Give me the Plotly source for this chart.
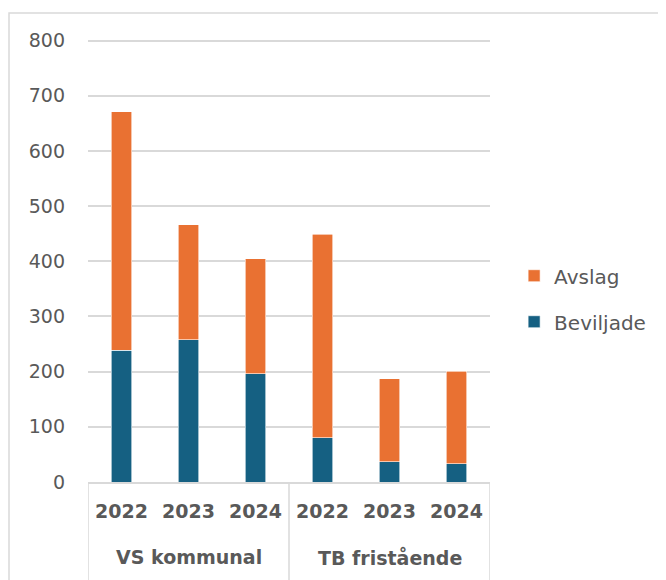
import plotly.graph_objects as go

groups = ["VS kommunal", "VS kommunal", "VS kommunal", "TB fristående", "TB fristående", "TB fristående"]
years = ["2022", "2023", "2024", "2022", "2023", "2024"]
beviljade = [239, 258, 196, 80, 37, 33]
avslag = [432, 208, 209, 369, 150, 168]
y_ticks = [0, 100, 200, 300, 400, 500, 600, 700, 800]

keys = [f"{g}|{y}" for g, y in zip(groups, years)]
group_names = list(dict.fromkeys(groups))

BLUE = "#156082"
ORANGE = "#E97132"
GRID = "#d9d9d9"
TXT = "#595959"
FONT = "DejaVu Sans"

fig = go.Figure()
fig.add_trace(go.Bar(x=keys, y=beviljade, name="Beviljade",
                     marker=dict(color=BLUE, line=dict(color="white", width=0.6)),
                     legendgroup="b", legendrank=2))
fig.add_trace(go.Bar(x=keys, y=avslag, name="Avslag",
                     marker=dict(color=ORANGE, line=dict(color="white", width=0.6)),
                     legendgroup="a", legendrank=1))

annotations = []
shapes = [dict(type="rect", xref="paper", yref="paper",
               x0=-0.1965, x1=1.7, y0=-0.6, y1=1.049,
               line=dict(color=GRID, width=1.5), layer="below")]
start = 0
for g in group_names:
    n = groups.count(g)
    annotations.append(dict(x=start + (n - 1) / 2, y=-0.168, xref="x", yref="paper",
                            text=g, showarrow=False, yanchor="middle",
                            font=dict(family=FONT, size=19, color=TXT, weight="bold")))
    shapes.append(dict(type="line", xref="x", yref="paper", x0=start - 0.5, x1=start - 0.5,
                       y0=0, y1=-0.4, line=dict(color=GRID, width=1.5)))
    start += n
shapes.append(dict(type="line", xref="x", yref="paper", x0=start - 0.5, x1=start - 0.5,
                   y0=0, y1=-0.4, line=dict(color=GRID, width=1.5)))

fig.update_layout(
    width=658, height=572,
    barmode="stack", bargap=0.687,
    margin=dict(l=80, r=176, t=27, b=98, autoexpand=False),
    paper_bgcolor="white", plot_bgcolor="white",
    font=dict(family=FONT, color=TXT),
    legend=dict(x=1.06, y=0.41, xanchor="left", yanchor="middle",
                traceorder="grouped",
                font=dict(size=20, color=TXT), tracegroupgap=17,
                itemwidth=30, bgcolor="rgba(0,0,0,0)"),
    xaxis=dict(type="category", range=[-0.5, len(keys) - 0.5],
               tickvals=keys, ticktext=years,
               showgrid=False, showline=True,
               linecolor=GRID, linewidth=1.5, ticks="", ticklabelstandoff=11,
               tickfont=dict(family=FONT, size=19, color=TXT, weight="bold")),
    yaxis=dict(range=[0, 810], tickvals=y_ticks, showgrid=True, gridcolor=GRID,
               gridwidth=1.5, zeroline=False, showline=False, ticks="",
               ticklabelstandoff=22,
               tickfont=dict(family=FONT, size=19, color=TXT)),
    shapes=shapes,
    annotations=annotations,
)

fig.write_html("out.html")
